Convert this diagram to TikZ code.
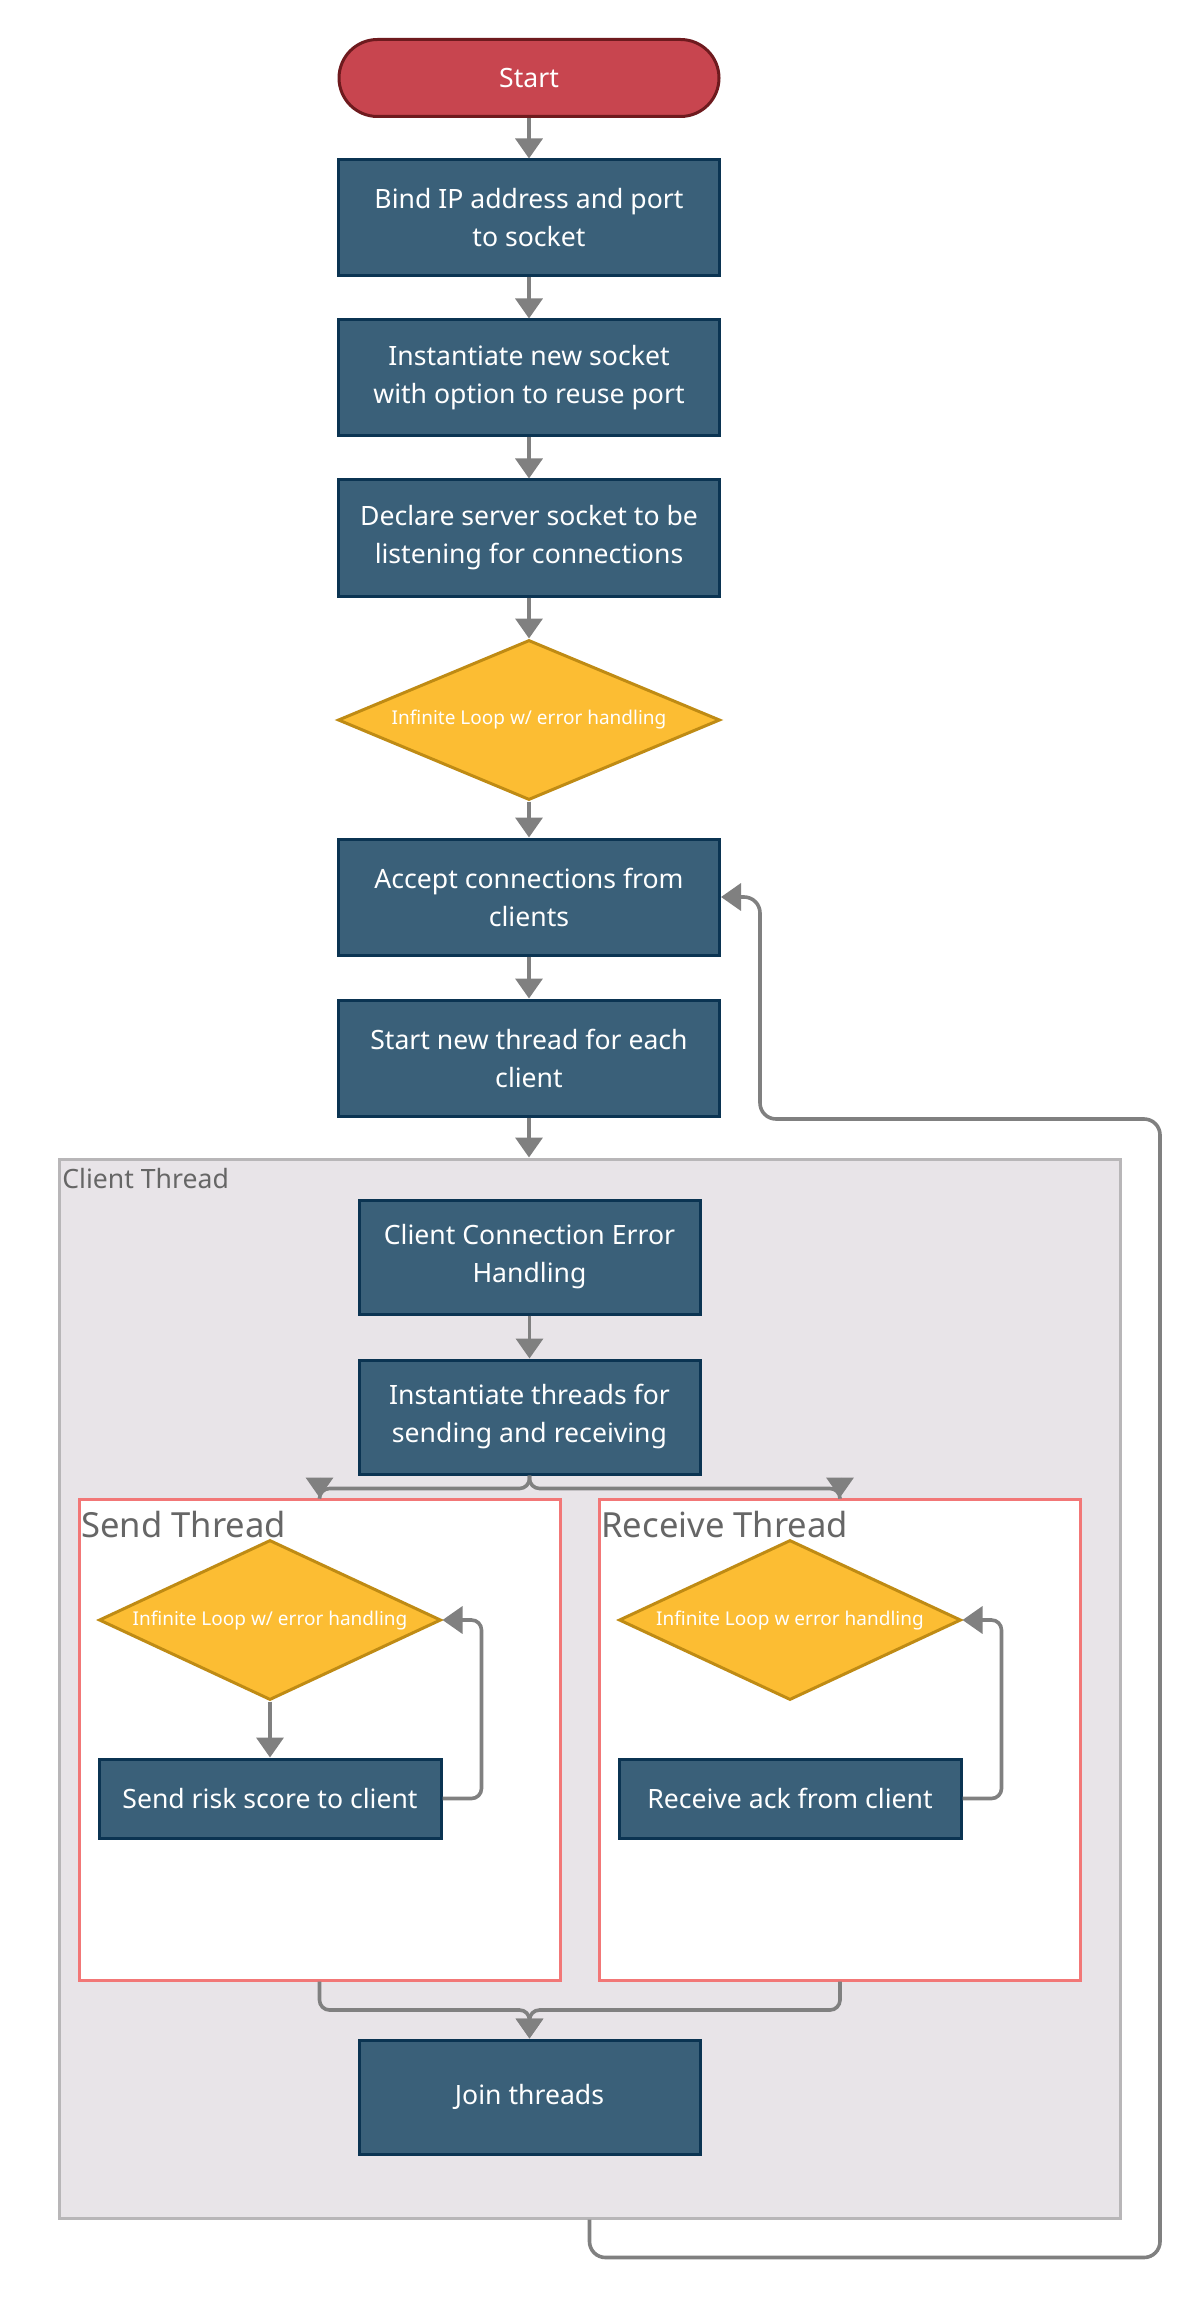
\documentclass[tikz,border=0pt]{standalone}
\usepackage{fontspec}
\setmainfont{Noto Sans}
\usetikzlibrary{arrows.meta,shapes.geometric,shapes.misc}

\definecolor{startfill}{HTML}{C8454F}
\definecolor{startedge}{HTML}{6E1A1E}
\definecolor{boxfill}{HTML}{3A6079}
\definecolor{boxedge}{HTML}{0B3452}
\definecolor{decfill}{HTML}{FCBD33}
\definecolor{decedge}{HTML}{BF8B14}
\definecolor{contfill}{HTML}{E8E4E8}
\definecolor{contedge}{HTML}{B8B6B8}
\definecolor{framered}{HTML}{F27777}
\definecolor{linegray}{HTML}{808080}
\definecolor{labelgray}{HTML}{666666}

\begin{document}
\begin{tikzpicture}[x=0.5pt,y=-0.5pt,
  stepbox/.style={rectangle, draw=boxedge, fill=boxfill, line width=1.5pt,
    text=white, align=center, inner sep=0pt,
    font=\fontsize{13.3}{19}\selectfont},
  widebox/.style={stepbox, minimum width=190.5pt, minimum height=58pt},
  innerbox/.style={stepbox, minimum width=170.5pt, minimum height=57pt},
  smallbox/.style={stepbox, minimum width=171pt, minimum height=39.5pt},
  decision/.style={diamond, aspect=2.4, draw=decedge, fill=decfill,
    line width=1.5pt, text=white, inner sep=0pt,
    font=\fontsize{9.5}{12}\selectfont},
  threadframe/.style={rectangle, draw=framered, fill=white, line width=1.5pt,
    inner sep=0pt, minimum width=240.5pt, minimum height=240.5pt},
  wire/.style={draw=linegray, line width=1.8pt, rounded corners=5pt},
  conn/.style={wire, -{Triangle[width=13.5pt,length=10pt]}},
  grouplabel/.style={text=labelgray, inner sep=0pt}
]
\useasboundingbox (0,0) rectangle (1200,2300);

% main sequence
\node[rounded rectangle, draw=startedge, fill=startfill, line width=1.5pt,
  text=white, minimum width=190pt, minimum height=38.5pt, inner sep=0pt,
  font=\fontsize{13.3}{19}\selectfont] (start) at (529,78) {Start};
\node[widebox] (bind) at (529,218) {Bind IP address and port\\to socket};
\node[widebox] (inst) at (529,378) {Instantiate new socket\\with option to reuse port};
\node[widebox] (decl) at (529,538) {Declare server socket to be\\listening for connections};
\node[decision, minimum width=191pt, minimum height=80pt] (loop) at (529,720)
  {Infinite Loop w/ error handling};
\node[widebox] (accept) at (529,897) {Accept connections from\\clients};
\node[widebox] (startthr) at (529,1058) {Start new thread for each\\client};

% client thread group
\node[draw=contedge, fill=contfill, line width=1.5pt, inner sep=0pt,
  minimum width=530.5pt, minimum height=529.5pt] (client) at (589.5,1688.5) {};
\node[grouplabel, anchor=base west, font=\fontsize{13.3}{16}\selectfont]
  (clientlbl) at (62,1188) {Client Thread};

\node[innerbox] (cerr) at (529.5,1257) {Client Connection Error\\Handling};
\node[innerbox] (ithr) at (529.5,1417) {Instantiate threads for\\sending and receiving};

% send and receive threads
\node[threadframe] (sendbox) at (319.5,1739.5) {};
\node[threadframe] (recvbox) at (840,1739.5) {};
\node[grouplabel, anchor=base west, font=\fontsize{17.3}{20}\selectfont]
  (sendlbl) at (81,1537) {Send Thread};
\node[grouplabel, anchor=base west, font=\fontsize{17.3}{20}\selectfont]
  (recvlbl) at (601,1537) {Receive Thread};

\node[decision, minimum width=171pt, minimum height=80pt] (sloop) at (270,1620)
  {Infinite Loop w/ error handling};
\node[smallbox] (ssend) at (270,1798.5) {Send risk score to client};
\node[decision, minimum width=171pt, minimum height=80pt] (rloop) at (790,1620)
  {Infinite Loop w error handling};
\node[smallbox] (rrecv) at (790,1798.5) {Receive ack from client};

\node[innerbox] (join) at (529.5,2097) {Join threads};

% connectors
\draw[conn] (start) -- (bind);
\draw[conn] (bind) -- (inst);
\draw[conn] (inst) -- (decl);
\draw[conn] (decl) -- (loop.north);
\draw[conn] (loop.south) -- (accept);
\draw[conn] (accept) -- (startthr);
\draw[conn] (startthr.south) -- (startthr.south |- client.north);
\draw[conn] (cerr) -- (ithr);

% fork into the two worker threads
\draw[wire] (ithr.south) -- ++(0,13) -| (sendbox.north);
\draw[wire] (ithr.south) -- ++(0,13) -| (recvbox.north);
\draw[conn] ([yshift=10pt]sendbox.north) -- (sendbox.north);
\draw[conn] ([yshift=10pt]recvbox.north) -- (recvbox.north);

\draw[conn] (sloop.south) -- (ssend.north);
\draw[conn] (ssend.east) -- ++(39,0) |- (sloop.east);
\draw[conn] (rrecv.east) -- ++(39,0) |- (rloop.east);

% join of the worker threads
\coordinate (jm) at (529.5,2010);
\draw[conn] (sendbox.south) |- (jm) -- (join.north);
\draw[conn] (recvbox.south) |- (jm) -- (join.north);

% return path to accepting connections
\coordinate (rb2) at (1160,1119);
\coordinate (rb3) at (760,897);
\draw[conn, rounded corners=8pt] (client.south) -- ++(0,38) -| (rb2) -| (rb3) -- (accept.east);
\end{tikzpicture}
\end{document}
